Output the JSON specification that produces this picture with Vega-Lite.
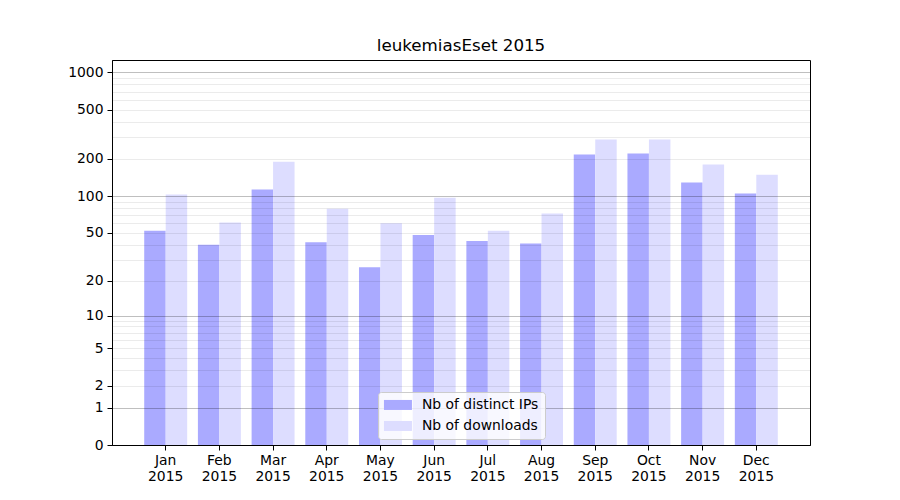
{
  "$schema": "https://vega.github.io/schema/vega-lite/v6.json",
  "width": 698,
  "height": 385,
  "autosize": {"type": "none"},
  "padding": {"left": 112, "top": 60, "right": 90, "bottom": 55},
  "background": "white",
  "title": {"text": "leukemiasEset 2015", "fontSize": 16.7, "font": "DejaVu Sans", "fontWeight": "normal", "color": "black", "offset": 5, "anchor": "middle"},
  "config": {
    "view": {"stroke": "black", "strokeWidth": 1},
    "font": "DejaVu Sans",
    "axis": {"labelFont": "DejaVu Sans", "labelFontSize": 13.9, "labelColor": "black", "domainColor": "black", "tickColor": "black", "tickSize": 5, "labelPadding": 4, "title": null}
  },
  "data": {
    "values": [
      {"month": "Jan", "series": "Nb of distinct IPs", "value": 52},
      {"month": "Jan", "series": "Nb of downloads", "value": 103},
      {"month": "Feb", "series": "Nb of distinct IPs", "value": 40},
      {"month": "Feb", "series": "Nb of downloads", "value": 61},
      {"month": "Mar", "series": "Nb of distinct IPs", "value": 113},
      {"month": "Mar", "series": "Nb of downloads", "value": 190},
      {"month": "Apr", "series": "Nb of distinct IPs", "value": 42},
      {"month": "Apr", "series": "Nb of downloads", "value": 79},
      {"month": "May", "series": "Nb of distinct IPs", "value": 26},
      {"month": "May", "series": "Nb of downloads", "value": 60},
      {"month": "Jun", "series": "Nb of distinct IPs", "value": 48},
      {"month": "Jun", "series": "Nb of downloads", "value": 97},
      {"month": "Jul", "series": "Nb of distinct IPs", "value": 43},
      {"month": "Jul", "series": "Nb of downloads", "value": 52},
      {"month": "Aug", "series": "Nb of distinct IPs", "value": 41},
      {"month": "Aug", "series": "Nb of downloads", "value": 72},
      {"month": "Sep", "series": "Nb of distinct IPs", "value": 217},
      {"month": "Sep", "series": "Nb of downloads", "value": 287},
      {"month": "Oct", "series": "Nb of distinct IPs", "value": 221},
      {"month": "Oct", "series": "Nb of downloads", "value": 287},
      {"month": "Nov", "series": "Nb of distinct IPs", "value": 129},
      {"month": "Nov", "series": "Nb of downloads", "value": 180},
      {"month": "Dec", "series": "Nb of distinct IPs", "value": 105},
      {"month": "Dec", "series": "Nb of downloads", "value": 149}
    ]
  },
  "mark": {"type": "bar"},
  "encoding": {
    "x": {
      "field": "month", "type": "nominal", "sort": null,
      "scale": {"paddingInner": 0.2, "paddingOuter": 0.6},
      "axis": {"labelAngle": 0, "labelExpr": "[datum.label, '2015']", "labelLineHeight": 16, "grid": false, "labelPadding": 3}
    },
    "xOffset": {"field": "series", "type": "nominal", "sort": ["Nb of distinct IPs", "Nb of downloads"]},
    "y": {
      "field": "value", "type": "quantitative",
      "scale": {"type": "symlog", "constant": 1, "domain": [0, 1258], "nice": false, "zero": true},
      "axis": {
        "values": [0, 1, 2, 3, 4, 5, 6, 7, 8, 9, 10, 20, 30, 40, 50, 60, 70, 80, 90, 100, 200, 300, 400, 500, 600, 700, 800, 900, 1000],
        "format": "d",
        "labelExpr": "indexof([0,1,2,5,10,20,50,100,200,500,1000], datum.value) >= 0 ? datum.label : ''",
        "tickOpacity": {"condition": {"test": "indexof([0,1,2,5,10,20,50,100,200,500,1000], datum.value) >= 0", "value": 1}, "value": 0},
        "grid": true,
        "gridColor": "black",
        "gridOpacity": {"condition": {"test": "indexof([1,10,100,1000], datum.value) >= 0", "value": 0.25}, "value": 0.08},
        "zindex": 1
      }
    },
    "color": {
      "field": "series", "type": "nominal",
      "scale": {"domain": ["Nb of distinct IPs", "Nb of downloads"], "range": ["#aaaaff", "#ddddff"]},
      "legend": {
        "title": null, "orient": "none", "legendX": 266, "legendY": 332,
        "fillColor": "rgba(255,255,255,0.8)", "strokeColor": "#cccccc", "cornerRadius": 3, "padding": 6,
        "labelFont": "DejaVu Sans", "labelFontSize": 13.9, "labelColor": "black", "labelOffset": 17,
        "symbolType": "M-2.8,-1H2.8V1H-2.8Z", "symbolSize": 100, "symbolOffset": 7, "symbolStrokeWidth": 0, "symbolOpacity": 1,
        "rowPadding": 6, "zindex": 2
      }
    }
  }
}
